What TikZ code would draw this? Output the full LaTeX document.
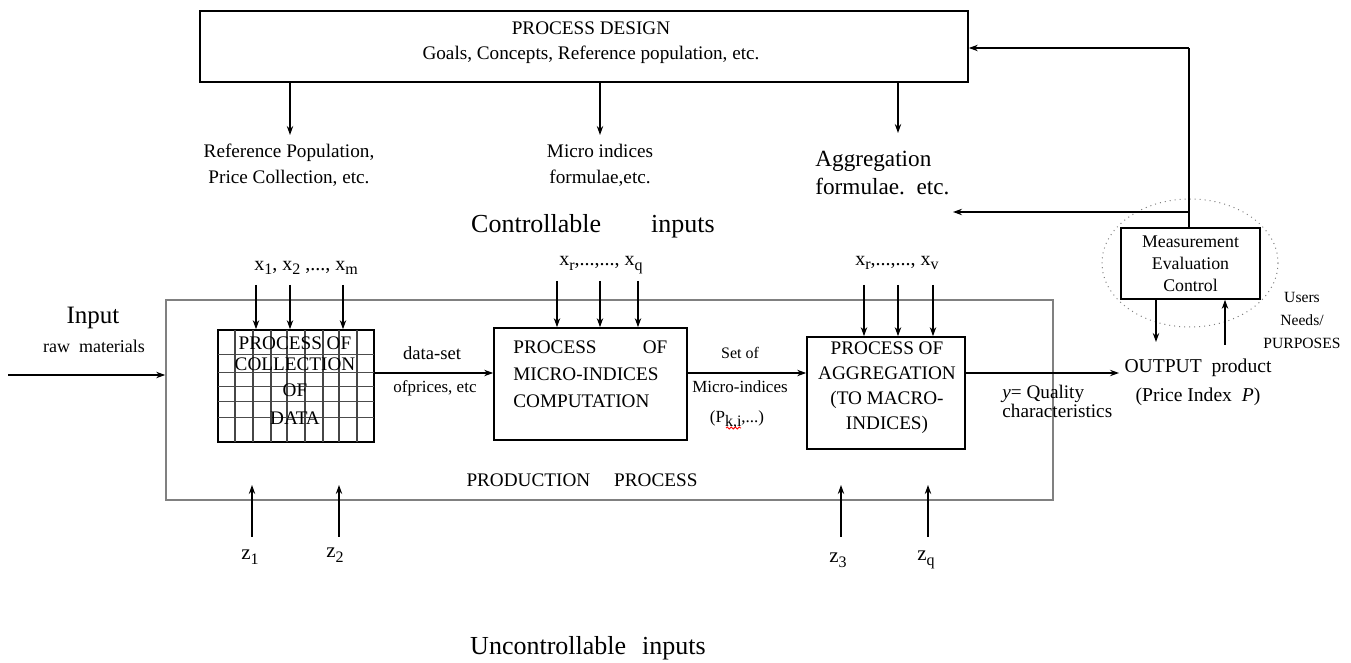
\documentclass[tikz,border=0pt]{standalone}
\usepackage{fontspec}
\setmainfont{Liberation Serif}
\usetikzlibrary{arrows.meta,decorations.pathmorphing}
\newcommand\lsub[1]{\raisebox{-0.5ex}{\fontsize{8}{8}\selectfont #1}}
\begin{document}
\begin{tikzpicture}[x=0.5pt,y=-0.5pt,
  arr/.style={draw, line width=0.7pt, -{Stealth[length=4.5pt,width=3.2pt]}},
  box/.style={draw, line width=0.8pt, inner sep=0pt},
  t/.style={inner sep=0pt, align=center, font=\fontsize{9.6}{13}\selectfont},
  ts/.style={inner sep=0pt, align=center, font=\fontsize{8.5}{11}\selectfont},
  tb/.style={inner sep=0pt, align=center, font=\fontsize{13}{15}\selectfont},
  grid/.style={line width=0.5pt, gray!60!black},
  vgrid/.style={line width=1.3pt, gray!55!black}]
\useasboundingbox (0,0) rectangle (1351,663);

% ---- process design ----
\node[box, minimum width=384pt, minimum height=35.5pt] (design) at (584,46.5) {};
\node[t] (pd) at (591,28) {PROCESS DESIGN};
\node[t] (goals) at (591,55) {Goals, Concepts, Reference population, etc.};

\coordinate (d1) at (290,135);
\coordinate (d2) at (600,135);
\coordinate (d3) at (898,133);
\draw[arr] (design.south -| d1) -- (d1);
\draw[arr] (design.south -| d2) -- (d2);
\draw[arr] (design.south -| d3) -- (d3);

\node[t] (refpop) at (289,165) {Reference Population,\\Price Collection, etc.};
\node[t] (microf) at (600,165) {Micro indices\\formulae,etc.};
\node[t, align=left, anchor=west, font=\fontsize{11.6}{14}\selectfont] (aggf) at (815,173) {Aggregation\\formulae.\ \ etc.};

\node[tb] (ctrl) at (593,226) {Controllable\hspace{25pt}inputs};

% ---- production process ----
\node[draw, gray, line width=0.8pt, minimum width=443.5pt, minimum height=100pt, inner sep=0pt] (prod) at (609.5,400) {};
\node[t] (prodlbl) at (582,480) {PRODUCTION\hspace{12pt}PROCESS};

% collection grid box
\node[box, minimum width=78pt, minimum height=56pt] (coll) at (296,386) {};
\foreach \yy in {355,373,387,402,418} \draw[grid] (218,\yy) -- (374,\yy);
\foreach \xx in {235,253,271,287,305,323,339,357} \draw[vgrid] (\xx,330) -- (\xx,442);
\node[t] (c1) at (295,343) {PROCESS OF};
\node[t] (c2) at (295,364) {COLLECTION};
\node[t] (c3) at (295,390) {OF};
\node[t] (c4) at (295,418) {DATA};

\node[t, font=\fontsize{10}{12}\selectfont] (xm) at (306,268) {x\lsub{1}, x\lsub{2} ,..., x\lsub{m}};
\foreach \xx/\n in {256/a,290/b,343/c} {
  \coordinate (xc\n) at (\xx,285);
  \draw[arr] (xc\n) -- (xc\n |- coll.north);
}

% micro box
\node[box, minimum width=96.5pt, minimum height=56pt] (micro) at (590.5,384) {};
\node[t, align=left, anchor=west] (mtxt) at (513,374) {\makebox[77pt][s]{PROCESS\hfill OF}\\[0.5pt]MICRO-INDICES\\[0.5pt]COMPUTATION};
\node[t, font=\fontsize{10}{12}\selectfont] (xq) at (601,265) {x\lsub{r},...,..., x\lsub{q}};
\foreach \xx/\n in {557/a,600/b,638/c} {
  \coordinate (xm\n) at (\xx,281);
  \draw[arr] (xm\n) -- (xm\n |- micro.north);
}

% aggregation box
\node[box, minimum width=79pt, minimum height=56pt] (agg) at (886,393) {};
\node[t, font=\fontsize{9.6}{12.5}\selectfont] (atxt) at (887,387.5) {PROCESS OF\\AGGREGATION\\(TO MACRO-\\INDICES)};
\node[t, font=\fontsize{10}{12}\selectfont] (xv) at (897,263) {x\lsub{r},...,..., x\lsub{v}};
\foreach \xx/\n in {864/a,898/b,933/c} {
  \coordinate (xa\n) at (\xx,285);
  \draw[arr] (xa\n) -- (xa\n |- agg.north);
}

% horizontal flow
\coordinate (row) at (0,373);
\coordinate (instart) at (8,375);
\draw[arr] (instart) -- (instart -| prod.west);
\node[t, font=\fontsize{12.5}{14}\selectfont] (inp) at (93,318) {Input};
\node[t, font=\fontsize{9}{11}\selectfont] (raw) at (94,346) {raw\ \ materials};

\draw[arr] (coll.east |- row) -- (micro.west |- row);
\node[ts, font=\fontsize{9.3}{11}\selectfont] (ds) at (432,353) {data-set};
\node[ts] (op) at (435,388) {ofprices, etc};

\draw[arr] (micro.east |- row) -- (agg.west |- row);
\node[ts, font=\fontsize{8}{10}\selectfont] (setof) at (740,353) {Set of};
\node[ts] (mi) at (740,387) {Micro-indices};
\node[ts] (pki) at (737,420) {(P\lsub{k,i},...)};
\draw[red, line width=0.4pt, decorate, decoration={snake, amplitude=0.5pt, segment length=2pt}] (726,428) -- (741,428);

% output
\coordinate (outtip) at (1119,373);
\draw[arr] (agg.east |- outtip) -- (outtip);
\node[t, align=left, anchor=west, font=\fontsize{9.6}{9.5}\selectfont] (yq) at (1002,401) {\textit{y}= Quality\\characteristics};
\node[t, font=\fontsize{9.8}{14.5}\selectfont] (out) at (1198,382) {OUTPUT\ \ product\\(Price Index\ \ \textit{P})};

% measurement
\draw[gray, line width=0.5pt, dotted] (1190,263) ellipse [x radius=88, y radius=64];
\node[box, minimum width=69.5pt, minimum height=35.5pt, font=\fontsize{8.9}{11}\selectfont, align=center] (meas) at (1190.5,263.5) {Measurement\\Evaluation\\Control};
\coordinate (md) at (1156,342);
\coordinate (mu) at (1225,345);
\draw[arr] (meas.south -| md) -- (md);
\draw[arr] (mu) -- (mu |- meas.south);
\node[t, font=\fontsize{7.8}{11.5}\selectfont] (users) at (1302,320) {Users\\Needs/\\PURPOSES};

% feedback
\coordinate (fb) at (1189,48);
\draw[line width=0.7pt] (meas.north -| fb) -- (fb);
\draw[arr] (fb) -- (fb -| design.east);
\coordinate (aggtip) at (953,212);
\draw[arr] (meas.north -| fb) -- (fb |- aggtip) -- (aggtip);

% uncontrollable
\foreach \xx/\n in {252/a,339/b,841/c,928/d} {
  \coordinate (zs\n) at (\xx,537);
  \coordinate (ze\n) at (\xx,485);
  \draw[arr] (zs\n) -- (ze\n);
}
\node[t, font=\fontsize{10.5}{12}\selectfont] (z1) at (250,557) {z\lsub{1}};
\node[t, font=\fontsize{10.5}{12}\selectfont] (z2) at (335,555) {z\lsub{2}};
\node[t, font=\fontsize{10.5}{12}\selectfont] (z3) at (838,560) {z\lsub{3}};
\node[t, font=\fontsize{10.5}{12}\selectfont] (zq) at (926,560) {z\lsub{q}};
\node[tb] (unc) at (588,648) {Uncontrollable\hspace{8pt}inputs};
\end{tikzpicture}
\end{document}
